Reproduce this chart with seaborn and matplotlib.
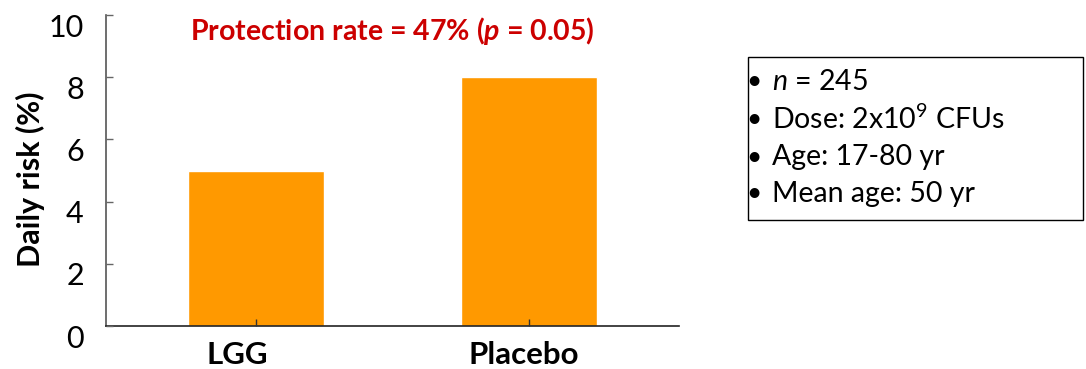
import matplotlib
matplotlib.use("Agg")
import matplotlib.pyplot as plt
from matplotlib.patches import Rectangle
from matplotlib.transforms import ScaledTranslation
import seaborn as sns
import pandas as pd

# Data
groups = ["LGG", "Placebo"]
daily_risk = [5.0, 8.0]
y_ticks = [0, 2, 4, 6, 8, 10]
headline = r"Protection rate = 47% ($\mathbfit{p}$ = 0.05)"
study_notes = [
    r"$\mathit{n}$ = 245",
    r"Dose: 2x10$^{9}$ CFUs",
    "Age: 17-80 yr",
    "Mean age: 50 yr",
]

sns.set_theme(style="white")
plt.rcParams["font.family"] = ["Lato", "DejaVu Sans"]
plt.rcParams["mathtext.fontset"] = "custom"
plt.rcParams["mathtext.rm"] = "Lato"
plt.rcParams["mathtext.it"] = "Lato:italic"
plt.rcParams["mathtext.bf"] = "Lato:bold"
plt.rcParams["mathtext.bfit"] = "Lato:bold:italic"

df = pd.DataFrame({"group": groups, "risk": daily_risk})

fig = plt.figure(figsize=(10.86, 3.69), dpi=100)
ax = fig.add_axes([0.0976, 0.1165, 0.5276, 0.8428])

sns.barplot(data=df, x="group", y="risk", color="#FF9900", saturation=1,
            width=0.5, ax=ax, zorder=2)

ax.set_xlim(-0.55, 1.55)
ax.set_ylim(0, 10)

for side in ["top", "right"]:
    ax.spines[side].set_visible(False)
ax.spines["bottom"].set_color("#222222")
ax.spines["bottom"].set_linewidth(1.2)
ax.spines["left"].set_color("#555555")
ax.spines["left"].set_linewidth(1.2)

ax.tick_params(axis="y", direction="in", length=5, width=1, color="#666666",
               pad=16, left=True)
ax.tick_params(axis="x", direction="in", length=5, width=1, color="#333333",
               pad=11, bottom=True)
ax.set_axisbelow(False)

ax.set_yticks(y_ticks)
ax.set_yticklabels([str(t) for t in y_ticks], fontsize=22, color="black")
ax.set_xticks(range(len(groups)))
ax.set_xticklabels(groups, fontsize=22.5, fontweight="bold", color="black")
ax.set_xlabel("")
ax.set_ylabel("Daily risk (%)", fontsize=22, fontweight="bold", color="black")
ax.yaxis.set_label_coords(-0.106, 0.473)

# y tick labels sit slightly below their ticks
shift = ScaledTranslation(0, -10 / 100, fig.dpi_scale_trans)
for tick in ax.yaxis.get_major_ticks():
    tick.label1.set_transform(tick.label1.get_transform() + shift)

# category labels are nudged a little to the left
x_nudge_px = [-19, -5]
for tick, dx in zip(ax.xaxis.get_major_ticks(), x_nudge_px):
    tick.label1.set_transform(
        tick.label1.get_transform()
        + ScaledTranslation(dx / 100, 0, fig.dpi_scale_trans))

ax.text(0.5, 1.0, headline, transform=ax.transAxes, ha="center", va="top",
        fontsize=20.5, fontweight="bold", color="#CC0000")

# Study summary box
fig.patches.append(Rectangle((748 / 1086, 1 - 220 / 369), 335 / 1086, 163 / 369,
                             transform=fig.transFigure, fill=False,
                             edgecolor="black", linewidth=1.0))
line_y = [82, 119, 157, 194]
for yy, note in zip(line_y, study_notes):
    fig.text(746 / 1086, 1 - yy / 369, "\u2022", ha="left", va="center",
             fontsize=19, color="black")
    fig.text(772 / 1086, 1 - yy / 369, note, ha="left", va="center",
             fontsize=20.5, color="black")

fig.savefig("out.png", dpi=100)
